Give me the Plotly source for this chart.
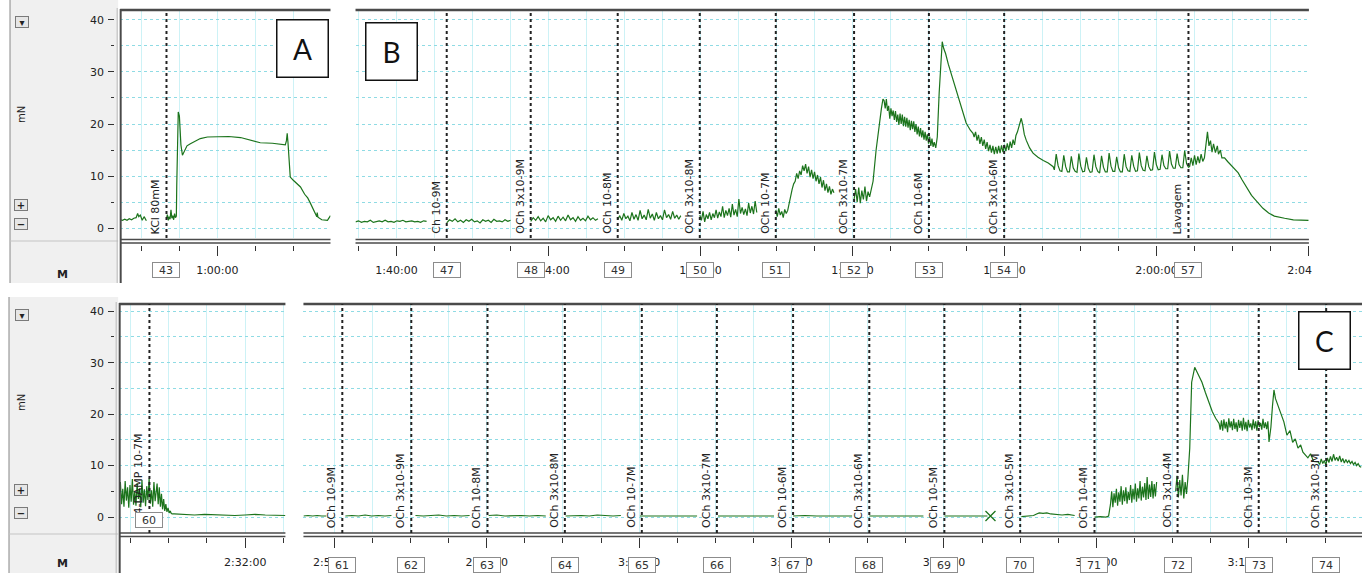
import numpy as np
import plotly.graph_objects as go

W, H = 1367, 573      # design grid (pixels of the reference picture)
FIG_W = 1390          # page width that maps onto the 1367-px picture

# ---------------------------------------------------------------- data
# time in minutes of recording, force in mN
# Panel A  (KCl 80 mM)
A_seg1_t = [57.44, 57.50, 57.56, 57.62, 57.68, 57.74, 57.80, 57.86, 57.90, 57.93, 57.97, 58.02, 58.07, 58.13]
A_seg1_v = [1.6, 1.5, 1.7, 1.5, 1.8, 1.6, 1.9, 2.0, 2.8, 2.2, 2.5, 1.5, 2.2, 1.4]
A_seg2_span = (58.66, 58.92)
A_seg2_v = [1.8, 2.6, 1.5, 2.2, 1.7, 3.5, 1.9, 2.4, 1.6, 2.8, 2.0, 2.3]
A_seg3_t = [58.93, 58.95, 58.97, 59.00, 59.02, 59.04, 59.08, 59.13, 59.20, 59.29, 59.40, 59.55, 59.74, 60.00,
            60.30, 60.61, 60.85, 61.13, 61.45, 61.79, 61.82, 61.84, 61.86, 61.89, 61.92, 62.00, 62.10, 62.19,
            62.30, 62.38, 62.45, 62.52, 62.58, 62.62, 62.63, 62.65, 62.75, 62.90, 62.98]
A_seg3_v = [8.0, 18.0, 22.3, 21.5, 19.0, 16.0, 14.0, 14.8, 15.8, 16.2, 16.6, 17.2, 17.5, 17.5,
            17.6, 17.4, 16.9, 16.4, 16.3, 16.0, 16.8, 18.2, 16.5, 12.5, 9.8, 9.2, 8.5, 7.9,
            6.5, 5.8, 4.8, 3.8, 2.8, 2.2, 3.0, 2.1, 1.6, 1.5, 2.4]

# Panel B (OCh cumulative curve)
B1_span = (98.92, 100.79)
B1_v = [1.2, 1.4, 1.1, 1.3, 1.2, 1.5, 1.1, 1.3, 1.4, 1.2, 1.5, 1.2, 1.3, 1.1, 1.4, 1.3, 1.5, 1.2, 1.3, 1.4, 1.2, 1.3, 1.1, 1.4, 1.3]
B2_span = (101.32, 103.00)
B2_v = [1.0, 1.6, 1.3, 1.8, 1.2, 1.5, 1.1, 1.6, 1.3, 1.7, 1.2, 1.4, 1.0, 1.6, 1.3, 1.5, 1.1, 1.7, 1.3, 1.4, 1.2, 1.6, 1.3, 1.5]
B3_span = (103.53, 105.30)
B3_v = [1.3, 2.0, 1.5, 2.2, 1.4, 1.9, 1.2, 2.4, 1.6, 2.0, 1.3, 2.3, 1.5, 2.1, 1.4, 2.5, 1.6, 2.0, 1.3, 2.2, 1.5, 1.9, 1.4, 2.3, 1.6, 2.0, 1.5, 1.8]
B4_span = (105.82, 107.48)
B4_v = [1.6, 2.4, 1.5, 2.8, 1.8, 2.3, 1.4, 3.0, 1.7, 2.6, 1.5, 3.4, 1.8, 2.5, 1.6, 3.6, 1.9, 2.7, 1.5, 3.0, 1.8, 2.4, 1.6, 3.5, 2.0, 2.6, 1.7, 3.2, 1.9, 2.5, 1.7, 2.4]
B5_span = (107.98, 109.48)
B5_v = [2.5, 1.5, 3.2, 1.2, 2.6, 1.8, 3.0, 1.6, 2.8, 2.0, 3.5, 1.9, 3.1, 2.2, 4.2, 2.0, 3.4, 2.4, 3.8, 2.1, 4.6, 2.5, 3.6, 2.2,
        5.6, 2.8, 4.0, 2.6, 3.7, 2.4, 4.8, 2.9, 4.2, 2.7, 5.2, 3.0]
B6_span = (109.98, 111.51)
B6_v = [3.5, 2.2, 3.8, 2.5, 3.2, 2.0, 3.6, 2.8, 3.4, 5.0, 6.5, 7.5, 8.5, 9.0, 10.5, 9.5, 11.0, 10.2, 12.0, 11.0, 12.3,
        10.5, 11.8, 9.8, 11.2, 9.5, 10.8, 9.0, 10.2, 8.5, 9.8, 7.8, 9.2, 7.2, 8.5, 6.8, 8.0, 6.5, 7.5, 6.8]
B7a_span = (112.04, 112.49)
B7a_v = [5.5, 7.5, 5.0, 7.8, 4.8, 7.2, 5.5, 8.0, 5.2, 7.0, 6.0, 7.5]
B7b_t = [112.54, 112.62, 112.70, 112.76, 112.80]
B7b_v = [9.0, 15.0, 20.2, 23.0, 24.8]
B7c_span = (112.83, 114.15)
B7c_v = [24.5, 23.0, 24.8, 22.5, 23.5, 21.0, 23.0, 21.5, 22.6, 20.8, 22.5, 20.4, 21.8, 19.8, 22.0,
         20.0, 21.8, 19.6, 21.4, 19.5, 21.2, 19.3, 20.8, 18.8, 20.6, 19.0, 20.5, 18.5, 20.0, 18.0,
         19.5, 17.6, 19.2, 17.4, 18.8, 17.0, 18.5, 16.8, 18.0, 16.2, 17.6, 15.8, 17.2, 15.6, 16.5]
B7d_t = [114.19, 114.23, 114.28, 114.33, 114.36, 114.40, 114.45, 114.52, 114.60, 114.67, 114.76, 114.86,
         114.93, 114.99, 115.10, 115.17]
B7d_v = [15.4, 17.5, 26.0, 33.0, 35.8, 34.5, 33.5, 31.5, 29.5, 27.8, 25.5, 23.3, 21.5, 20.2, 18.8, 18.2]
B7e_span = (115.20, 116.30)
B7e_v = [17.5, 18.5, 16.8, 17.9, 16.2, 17.5, 15.8, 17.0, 15.2, 16.5, 14.8, 16.0, 14.5, 15.8, 14.2,
         15.6, 14.3, 15.8, 14.4, 15.9, 14.6, 16.0, 14.8, 16.3, 15.0, 16.6, 15.4, 17.0, 16.0, 17.8]
B7f_t = [116.34, 116.40, 116.44, 116.48, 116.52, 116.57, 116.66, 116.75, 116.88, 117.02, 117.15, 117.28]
B7f_v = [18.5, 20.2, 21.1, 19.8, 18.0, 16.9, 15.4, 14.4, 13.6, 13.0, 12.5, 11.8]
B7g_span = (117.31, 120.84)
B7g_v = [11.2, 14.2, 12.0, 11.0, 10.9, 14.0, 11.8, 10.8, 10.8, 13.8, 11.6, 10.9, 10.7, 14.3, 11.9, 10.8,
         10.9, 13.6, 11.5, 10.7, 10.8, 14.1, 11.8, 10.9, 10.6, 13.9, 11.7, 10.8, 10.8, 14.4, 11.9, 10.9,
         10.9, 13.7, 11.6, 10.8, 10.8, 14.2, 11.8, 11.0, 10.9, 14.0, 11.9, 10.9, 11.0, 14.5, 12.0, 11.1,
         11.0, 13.9, 11.8, 11.1, 11.2, 14.6, 12.2, 11.2, 11.3, 14.1, 12.0, 11.4, 11.4, 14.8, 12.3, 11.5,
         11.5, 14.3, 12.2, 11.6, 11.6, 14.9, 12.4, 11.7]
B7h_span = (120.87, 121.26)
B7h_v = [11.8, 13.5, 12.0, 14.0, 12.2, 13.8, 12.5, 14.2, 12.8, 13.5]
B7i_t = [121.30, 121.34, 121.38, 121.42, 121.46, 121.50, 121.55, 121.60, 121.63, 121.68, 121.72, 121.79,
         121.87, 121.95, 122.05, 122.15, 122.25, 122.35, 122.42, 122.50, 122.58, 122.68, 122.80, 122.95,
         123.10, 123.37, 123.60, 124.00]
B7i_v = [15.5, 18.5, 15.8, 16.8, 14.6, 16.2, 14.5, 15.8, 14.2, 15.0, 13.5, 13.5,
         12.8, 12.2, 11.3, 10.6, 9.3, 8.0, 7.2, 6.3, 5.6, 4.8, 3.8, 2.9,
         2.3, 1.9, 1.6, 1.5]

# Panel bottom-left (4-DAMP)
D1_span = (148.71, 149.68)
D1_v = [4.0, 6.8, 2.5, 5.5, 2.0, 7.0, 3.2, 5.8, 1.8, 6.2, 3.0, 7.4, 2.4, 5.0, 2.2, 6.6, 3.5, 5.6, 1.9, 7.2,
        2.8, 5.4, 2.1, 6.0, 3.3, 7.5, 2.6, 5.2, 2.0, 6.8, 3.1, 5.9]
D2_span = (149.70, 150.10)
D2_v = [6.5, 2.5, 5.8, 2.0, 4.5, 1.5, 3.5, 1.2, 2.5, 1.0, 1.8, 0.8, 1.2, 0.7, 0.6]
D3_span = (150.15, 153.05)
D3_v = [0.6, 0.5, 0.4, 0.5, 0.4, 0.4, 0.3, 0.4, 0.5, 0.4, 0.4, 0.3]

# Panel C (OCh after 4-DAMP)
C1_span = (171.19, 171.79); C1_v = [0.2, 0.3, 0.2, 0.3, 0.2, 0.2]
C2_span = (172.29, 173.50); C2_v = [0.2, 0.3, 0.2, 0.4, 0.2, 0.3, 0.2, 0.3]
C3_span = (174.13, 175.55); C3_v = [0.3, 0.2, 0.3, 0.4, 0.2, 0.3, 0.2, 0.3]
C4_span = (176.05, 177.55); C4_v = [0.3, 0.4, 0.2, 0.3, 0.3, 0.2, 0.3, 0.2]
C5_span = (178.07, 179.52); C5_v = [0.2, 0.3, 0.3, 0.2, 0.4, 0.3, 0.2, 0.3]
C6_span = (180.02, 181.52); C6_v = [0.2, 0.2, 0.3, 0.2, 0.2, 0.2]
C7_span = (182.07, 183.54); C7_v = [0.2, 0.2, 0.2, 0.3, 0.2, 0.2]
C8_span = (184.04, 185.59); C8_v = [0.2, 0.3, 0.2, 0.2, 0.3, 0.2]
C9_span = (186.04, 187.46); C9_v = [0.2, 0.2, 0.2, 0.2, 0.3, 0.2]
C10_span = (188.01, 189.14); C10_v = [0.2, 0.2, 0.2, 0.2, 0.2, 0.2]
C_break_t = [189.22]
C_break_v = [0.2]
C11_t = [190.03, 190.20, 190.35, 190.43, 190.50, 190.60, 190.70, 190.80, 190.95, 191.10, 191.25, 191.43]
C11_v = [0.1, 0.2, 0.3, 0.6, 0.8, 0.7, 0.8, 0.6, 0.5, 0.4, 0.5, 0.3]
C12a_t = [191.95, 192.10, 192.25, 192.32]
C12a_v = [0.0, 0.1, 0.0, 0.2]
C12b_span = (192.37, 193.58)
C12b_v = [2.5, 5.0, 1.9, 4.6, 2.8, 5.5, 2.2, 4.8, 3.0, 6.0, 2.4, 5.2, 3.1, 5.8, 2.6, 4.9, 3.3, 6.2, 2.8, 5.5,
          3.4, 6.5, 3.0, 5.6, 3.6, 7.0, 3.2, 5.9, 3.8, 6.6, 3.3, 7.8, 3.5, 6.3, 3.9, 7.0, 3.6, 6.4, 4.0, 6.8]
C13a_span = (194.08, 194.40)
C13a_v = [5.0, 8.0, 3.8, 7.2, 4.2, 8.2, 3.6, 6.8, 4.5, 7.5]
C13b_t = [194.45, 194.50, 194.58, 194.66, 194.77, 194.86, 194.95, 195.04, 195.13, 195.22]
C13b_v = [13.4, 26.2, 29.1, 27.8, 26.2, 24.2, 22.3, 20.5, 19.2, 18.2]
C13c_span = (195.25, 196.50)
C13c_v = [17.0, 18.8, 16.8, 19.0, 17.2, 18.5, 16.5, 19.2, 17.4, 18.6, 16.9, 19.1, 17.1, 18.4, 16.6, 18.9,
          17.3, 18.7, 16.8, 19.3, 17.0, 18.5, 16.7, 18.9, 17.4, 18.2, 16.9, 19.0, 17.2, 18.6, 16.8, 18.8,
          17.5, 18.3, 17.0, 19.1, 17.3, 18.4, 17.1, 18.6]
C13d_t = [196.53, 196.58, 196.62, 196.66, 196.70, 196.76, 196.84, 196.92, 197.00, 197.08, 197.15, 197.22,
          197.29, 197.36, 197.42, 197.48, 197.55, 197.62, 197.70, 197.82]
C13d_v = [14.6, 17.5, 21.5, 24.7, 23.0, 21.8, 20.4, 18.5, 15.9, 16.8, 14.5, 15.2,
          13.4, 14.0, 12.6, 12.0, 11.5, 12.3, 10.8, 10.7]
C13e_span = (197.86, 198.95)
C13e_v = [10.2, 11.3, 10.4, 11.0, 10.1, 11.5, 10.6, 11.8, 10.8, 12.2, 11.0, 11.6, 10.9, 11.9, 10.7, 11.4,
          10.5, 11.2, 10.6, 11.0, 10.4, 10.8, 10.2, 10.6, 10.0, 10.4, 9.8, 9.7]

# comments (drug additions)
A_com_t = [58.66]
A_com_txt = ["KCl 80mM"]
A_com_box = ["43"]
B_com_t = [101.32, 103.53, 105.82, 107.98, 109.98, 112.04, 114.01, 115.99, 120.84]
B_com_txt = ["Ch 10-9M", "OCh 3x10-9M", "OCh 10-8M", "OCh 3x10-8M", "OCh 10-7M",
             "OCh 3x10-7M", "OCh 10-6M", "OCh 3x10-6M", "Lavagem"]
B_com_box = ["47", "48", "49", "50", "51", "52", "53", "54", "57"]
D_com_t = [149.50]
D_com_txt = ["4-DAMP 10-7M"]
D_com_box = ["60"]
C_com_t = [172.21, 174.02, 176.02, 178.05, 180.07, 182.04, 184.04, 186.04, 188.01, 190.00,
           191.95, 194.13, 196.26, 198.03]
C_com_txt = ["OCh 10-9M", "OCh 3x10-9M", "OCh 10-8M", "OCh 3x10-8M", "OCh 10-7M", "OCh 3x10-7M",
             "OCh 10-6M", "OCh 3x10-6M", "OCh 10-5M", "OCh 3x10-5M", "OCh 10-4M", "OCh 3x10-4M",
             "OCh 10-3M", "OCh 3x10-3M"]
C_com_box = ["61", "62", "63", "64", "65", "66", "67", "68", "69", "70", "71", "72", "73", "74"]

# time-axis ticks
A_tickvals = [60]
A_ticktext = ["1:00:00"]
B_tickvals = [100, 104, 108, 112, 116, 120, 124]
B_ticktext = ["1:40:00", "1:44:00", "1:48:00", "1:52:00", "1:56:00", "2:00:00", "2:04:00"]
D_tickvals = [152]
D_ticktext = ["2:32:00"]
C_tickvals = [172, 176, 180, 184, 188, 192, 196]
C_ticktext = ["2:52:00", "2:56:00", "3:00:00", "3:04:00", "3:08:00", "3:12:00", "3:16:00"]
Y_tickvals = [0, 10, 20, 30, 40]
Y_minorvals = [5, 15, 25, 35]

# axis ranges
A_range = [57.44, 62.98]
B_range = [98.92, 124.01]
D_range = [148.71, 153.05]
C_range = [171.19, 198.97]
TOP_Y = [-1.9, 41.9]
BOT_Y = [-3.1, 41.4]

# ---------------------------------------------------------------- helpers
def fx(p):
    return p / W


def fy(p):
    return 1 - p / H


def build(parts):
    xs, ys = [], []
    for p in parts:
        if p is None:
            xs.append(None)
            ys.append(None)
            continue
        t, v = p
        if isinstance(t, tuple):
            t = np.linspace(t[0], t[1], len(v)).tolist()
        xs += list(t)
        ys += list(v)
    return xs, ys


GREEN = "#1c741c"
FONT = "DejaVu Sans"
DARK = "#4a4a4a"

fig = go.Figure()

panels = [
    ("x", "y", [(A_seg1_t, A_seg1_v), None, (A_seg2_span, A_seg2_v), (A_seg3_t, A_seg3_v)]),
    ("x2", "y2", [(B1_span, B1_v), None, (B2_span, B2_v), None, (B3_span, B3_v), None, (B4_span, B4_v), None,
                  (B5_span, B5_v), None, (B6_span, B6_v), None, (B7a_span, B7a_v), (B7b_t, B7b_v),
                  (B7c_span, B7c_v), (B7d_t, B7d_v), (B7e_span, B7e_v), (B7f_t, B7f_v), (B7g_span, B7g_v),
                  (B7h_span, B7h_v), (B7i_t, B7i_v)]),
    ("x3", "y3", [(D1_span, D1_v), (D2_span, D2_v), (D3_span, D3_v)]),
    ("x4", "y4", [(C1_span, C1_v), None, (C2_span, C2_v), None, (C3_span, C3_v), None, (C4_span, C4_v), None,
                  (C5_span, C5_v), None, (C6_span, C6_v), None, (C7_span, C7_v), None, (C8_span, C8_v), None,
                  (C9_span, C9_v), None, (C10_span, C10_v), None, (C11_t, C11_v), None, (C12a_t, C12a_v),
                  (C12b_span, C12b_v), None, (C13a_span, C13a_v), (C13b_t, C13b_v), (C13c_span, C13c_v),
                  (C13d_t, C13d_v), (C13e_span, C13e_v)]),
]
for xa, ya, parts in panels:
    xs, ys = build(parts)
    fig.add_trace(go.Scatter(x=xs, y=ys, xaxis=xa, yaxis=ya, mode="lines",
                             line=dict(color=GREEN, width=1.2), connectgaps=False,
                             showlegend=False, hoverinfo="skip"))

fig.add_trace(go.Scatter(x=C_break_t, y=C_break_v, xaxis="x4", yaxis="y4", mode="markers",
                         marker=dict(symbol="x-thin", size=10, line=dict(color=GREEN, width=1.3)),
                         showlegend=False, hoverinfo="skip"))

# dummy traces so that the free tick axes exist
for xa, ya in [("x5", "y"), ("x6", "y2"), ("x7", "y3"), ("x8", "y4"), ("x", "y5"), ("x3", "y6")]:
    fig.add_trace(go.Scatter(x=[None], y=[None], xaxis=xa, yaxis=ya, mode="lines",
                             showlegend=False, hoverinfo="skip"))

# ---------------------------------------------------------------- axes
grid_x = dict(showgrid=True, gridcolor="#cdf2f6", gridwidth=1, tickmode="linear", tick0=0, dtick=1,
              ticks="", showticklabels=False, zeroline=False, showline=False, fixedrange=True)
grid_y = dict(showgrid=True, gridcolor="#8fdbe4", gridwidth=1, griddash="dot", tickmode="linear",
              tick0=0, dtick=5, ticks="", showticklabels=False, zeroline=False, showline=False, fixedrange=True)

top_dom = [fy(238), fy(10)]
bot_dom = [fy(533), fy(304)]

layout_axes = dict(
    xaxis=dict(grid_x, domain=[fx(120), fx(330)], range=A_range, anchor="y"),
    yaxis=dict(grid_y, domain=top_dom, range=TOP_Y, anchor="x"),
    xaxis2=dict(grid_x, domain=[fx(355), fx(1307)], range=B_range, anchor="y2"),
    yaxis2=dict(grid_y, domain=top_dom, range=TOP_Y, anchor="x2"),
    xaxis3=dict(grid_x, domain=[fx(119), fx(285)], range=D_range, anchor="y3"),
    yaxis3=dict(grid_y, domain=bot_dom, range=BOT_Y, anchor="x3"),
    xaxis4=dict(grid_x, domain=[fx(303), fx(1360)], range=C_range, anchor="y4"),
    yaxis4=dict(grid_y, domain=bot_dom, range=BOT_Y, anchor="x4"),
)


def time_axis(over, rng, pos, vals, text):
    return dict(overlaying=over, anchor="free", position=pos, range=rng, tickmode="array",
                tickvals=vals, ticktext=text, ticks="outside", ticklen=10, tickwidth=1, tickcolor="#333",
                showgrid=False, zeroline=False, showline=False, fixedrange=True,
                tickfont=dict(family=FONT, size=11, color="#222"), ticklabelstandoff=5,
                minor=dict(tickmode="linear", tick0=0, dtick=1, ticks="outside", ticklen=5,
                           tickcolor="#333", showgrid=False))


def force_axis(over, rng):
    return dict(overlaying=over, anchor="free", position=fx(114), side="left", range=rng,
                tickmode="array", tickvals=Y_tickvals, ticks="outside", ticklen=6, tickwidth=1,
                tickcolor="#333", showgrid=False, zeroline=False, showline=False, fixedrange=True,
                tickfont=dict(family=FONT, size=11, color="#222"), ticklabelstandoff=2,
                minor=dict(tickmode="array", tickvals=Y_minorvals, ticks="outside", ticklen=3,
                           tickcolor="#333", showgrid=False))


layout_axes["xaxis5"] = time_axis("x", A_range, fy(245), A_tickvals, A_ticktext)
layout_axes["xaxis6"] = time_axis("x2", B_range, fy(245), B_tickvals, B_ticktext)
layout_axes["xaxis7"] = time_axis("x3", D_range, fy(537), D_tickvals, D_ticktext)
layout_axes["xaxis8"] = time_axis("x4", C_range, fy(537), C_tickvals, C_ticktext)
layout_axes["yaxis5"] = force_axis("y", TOP_Y)
layout_axes["yaxis6"] = force_axis("y3", BOT_Y)

# ---------------------------------------------------------------- shapes
shapes = []


def pline(x0, y0, x1, y1, color=DARK, width=1.5, layer="above"):
    shapes.append(dict(type="line", xref="paper", yref="paper", x0=fx(x0), y0=fy(y0), x1=fx(x1), y1=fy(y1),
                       line=dict(color=color, width=width), layer=layer))


def prect(x0, y0, x1, y1, fill, layer="below"):
    shapes.append(dict(type="rect", xref="paper", yref="paper", x0=fx(x0), y0=fy(y0), x1=fx(x1), y1=fy(y1),
                       fillcolor=fill, line=dict(width=0), layer=layer))


# grey control panels
prect(10, 0, 118, 283, "#f0f0f0")
prect(9, 297, 118, 573, "#f0f0f0")
pline(10, 0, 10, 283, "#9a9a9a", 1.2)
pline(9, 297, 9, 573, "#9a9a9a", 1.2)
pline(10, 241, 118, 241, "#c4c4c4", 1)
pline(9, 534, 118, 534, "#c4c4c4", 1)
pline(117, 8, 117, 283, "#b8b8b8", 1)
pline(116, 302, 116, 573, "#b8b8b8", 1)
pline(120.5, 9, 120.5, 283, DARK, 2)
pline(119.5, 303, 119.5, 573, DARK, 2)

# frames of the chart areas
for x0, x1 in [(120, 330), (355, 1307)]:
    pline(x0, 10, x1, 10, DARK, 2.5)
    pline(x0, 239.5, x1, 239.5, DARK, 1.5)
    pline(x0, 243, x1, 243, DARK, 1.5)
for x0, x1 in [(119, 285), (303, 1360)]:
    pline(x0, 304, x1, 304, DARK, 2.5)
    pline(x0, 533, x1, 533, DARK, 1.5)
    pline(x0, 536.5, x1, 536.5, DARK, 1.5)

# comment markers (dotted verticals)
for xa, ts in [("x", A_com_t), ("x2", B_com_t), ("x3", D_com_t), ("x4", C_com_t)]:
    ya = {"x": "y", "x2": "y2", "x3": "y3", "x4": "y4"}[xa]
    for t in ts:
        shapes.append(dict(type="line", xref=xa, yref=ya + " domain", x0=t, x1=t, y0=0, y1=1,
                           line=dict(color="#222", width=2, dash="dot"), layer="above"))

# window edge hides the end of the last time label
prect(1310, 250, 1367, 292, "white", layer="above")

# ---------------------------------------------------------------- annotations
ann = []
for xa, ts, txts, boxes, ybot, ybox in [("x", A_com_t, A_com_txt, A_com_box, 236, 270),
                                        ("x2", B_com_t, B_com_txt, B_com_box, 236, 270),
                                        ("x3", D_com_t, D_com_txt, D_com_box, 516, 520),
                                        ("x4", C_com_t, C_com_txt, C_com_box, 530, 565)]:
    for t, txt, b in zip(ts, txts, boxes):
        ann.append(dict(xref=xa, yref="paper", x=t, y=fy(ybot), text=txt, textangle=-90,
                        xanchor="right", yanchor="bottom", xshift=-2, showarrow=False,
                        font=dict(family=FONT, size=11, color="#222")))
        ann.append(dict(xref=xa, yref="paper", x=t, y=fy(ybox), text=b, showarrow=False,
                        xanchor="center", yanchor="middle", width=24, height=12,
                        bgcolor="white", bordercolor="#8c8c8c", borderwidth=1, borderpad=1,
                        font=dict(family=FONT, size=11, color="#333")))

# panel letters
for letter, cx, cy in [("A", 302, 49), ("B", 391, 51), ("C", 1323, 340)]:
    ann.append(dict(xref="paper", yref="paper", x=fx(cx), y=fy(cy), text=letter, showarrow=False,
                    xanchor="center", yanchor="middle", width=48, height=54, bgcolor="white",
                    bordercolor="#111", borderwidth=1.5, borderpad=1,
                    font=dict(family="Lato", size=28, color="#111")))

# control panel decorations
for sym, cx, cy in [("\u25be", 22, 22), ("+", 21, 205), ("\u2212", 21, 224),
                    ("\u25be", 22, 315), ("+", 21, 490), ("\u2212", 21, 513)]:
    ann.append(dict(xref="paper", yref="paper", x=fx(cx), y=fy(cy), text="<b>" + sym + "</b>", showarrow=False,
                    xanchor="center", yanchor="middle", width=12, height=10, bgcolor="#e6e6e6",
                    bordercolor="#7a7a7a", borderwidth=1, borderpad=0,
                    font=dict(family=FONT, size=10, color="#222")))
for cy in [115, 403]:
    ann.append(dict(xref="paper", yref="paper", x=fx(22), y=fy(cy), text="mN", textangle=-90,
                    showarrow=False, xanchor="center", yanchor="middle",
                    font=dict(family=FONT, size=10, color="#222")))
for cy in [274, 563]:
    ann.append(dict(xref="paper", yref="paper", x=fx(62), y=fy(cy), text="<b>M</b>",
                    showarrow=False, xanchor="center", yanchor="middle",
                    font=dict(family=FONT, size=11, color="#222")))

fig.update_layout(
    width=FIG_W, height=H, autosize=False, margin=dict(l=0, r=0, t=0, b=0, pad=0),
    paper_bgcolor="white", plot_bgcolor="white",
    showlegend=False, hovermode=False,
    shapes=shapes, annotations=ann,
    **layout_axes,
)

fig.write_html("out.html", config={"displayModeBar": False, "responsive": False},
               post_script="document.body.style.margin='0px';document.body.style.overflow='hidden';")
